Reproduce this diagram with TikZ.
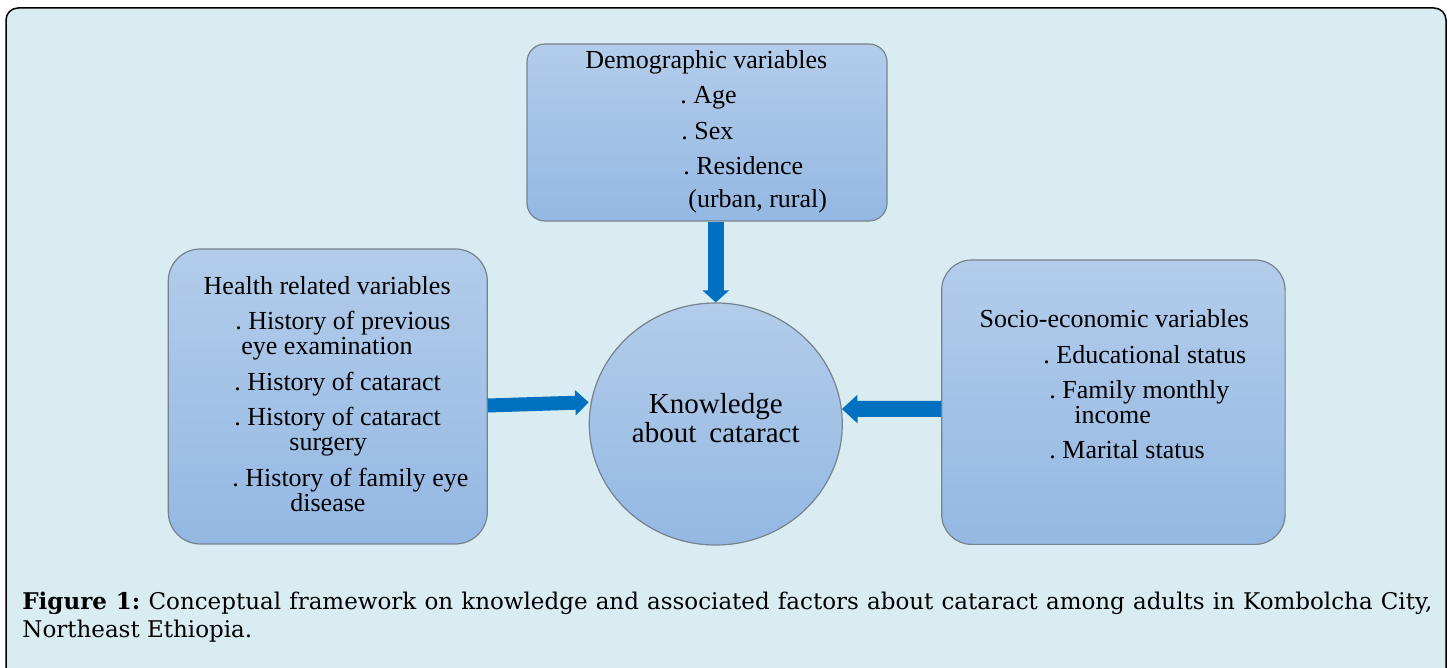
\documentclass[tikz,border=0pt]{standalone}
\usepackage{fontspec}
\setmainfont{Liberation Serif}
\newfontfamily\capfont{DejaVu Serif}
\usetikzlibrary{arrows.meta,shapes.geometric}
\frenchspacing

\definecolor{panelbg}{HTML}{D8ECF1}
\definecolor{boxtop}{HTML}{B3CCEA}
\definecolor{boxbot}{HTML}{94B8E3}
\definecolor{boxedge}{HTML}{76838F}
\definecolor{arrowblue}{HTML}{0070C0}

\tikzset{
  varbox/.style={draw=boxedge, line width=0.6pt, top color=boxtop, bottom color=boxbot,
                 shading angle=0, inner sep=0pt},
  itemline/.style={anchor=base west, inner sep=0pt, font=\fontsize{13}{15}\selectfont},
  bigarrow/.style={draw=arrowblue, line width=#1},
}

\begin{document}
\begin{tikzpicture}[x=0.5pt, y=-0.5pt]
  % page and outer panel
  \useasboundingbox (0,0) rectangle (1448,668);
  \fill[white] (0,0) rectangle (1448,668);
  \draw[fill=panelbg, draw=black, line width=0.75pt, rounded corners=6pt]
       (6,8) rectangle (1446,700);

  % variable boxes
  \node[varbox, rounded corners=9pt, minimum width=180pt, minimum height=88.5pt]
       (demo) at (707,132.5) {};
  \node[varbox, rounded corners=16pt, minimum width=159.5pt, minimum height=147.5pt]
       (health) at (327.8,396.5) {};
  \node[varbox, rounded corners=15pt, minimum width=171.7pt, minimum height=142.2pt]
       (socio) at (1113.4,402.2) {};

  % central outcome
  \node[ellipse, varbox, minimum width=126.5pt, minimum height=121pt]
       (circ) at (715.8,424) {};
  \node[inner sep=0pt, align=center, font=\fontsize{14.5}{14.5}\selectfont]
       (ktext) at (715.8,418.5) {Knowledge\\about\hspace{0.45em}cataract};

  % demographic variables
  \node[itemline] (d1) at (585,68.5)  {Demographic variables};
  \node[itemline] (d2) at (680,104)   {. Age};
  \node[itemline] (d3) at (681,139.5) {. Sex};
  \node[itemline] (d4) at (683,175)   {. Residence};
  \node[itemline] (d5) at (688,208)   {(urban, rural)};

  % health related variables
  \node[itemline] (h1) at (203.3,294.3) {Health related variables};
  \node[itemline] (h2) at (235,330)     {. History of previous};
  \node[itemline] (h3) at (241,355)     {eye examination};
  \node[itemline] (h4) at (234,390.7)   {. History of cataract};
  \node[itemline] (h5) at (234,425.7)   {. History of cataract};
  \node[itemline] (h6) at (289,451)     {surgery};
  \node[itemline] (h7) at (232,486.7)   {. History of family eye};
  \node[itemline] (h8) at (290,511.7)   {disease};

  % socio-economic variables
  \node[itemline] (s1) at (979.3,327.7) {Socio-economic variables};
  \node[itemline] (s2) at (1043,363.3)  {. Educational status};
  \node[itemline] (s3) at (1049,399)    {. Family monthly};
  \node[itemline] (s4) at (1074,423.3)  {income};
  \node[itemline] (s5) at (1049,458.3)  {. Marital status};

  % block arrows into the outcome
  \draw[bigarrow=8pt, -{Triangle[length=6pt,width=13pt]}]
       (demo.south -| circ.north) -- (circ.north);
  \draw[bigarrow=7pt, -{Triangle[length=6.7pt,width=12.3pt]}]
       ([yshift=-4.5pt]health.east) -- ([yshift=10.85pt]circ.west);
  \draw[bigarrow=8pt, -{Triangle[length=7.8pt,width=13.8pt]}]
       ([yshift=-3.35pt]socio.west) -- ([yshift=7.5pt, xshift=-0.5pt]circ.east);

  % caption
  \node[anchor=north west, inner sep=0pt, text width=705pt, align=justify,
        font=\capfont\fontsize{11.5}{14}\selectfont]
       (caption) at (22,592)
       {\textbf{Figure 1:} Conceptual framework on knowledge and associated factors about cataract among adults in Kombolcha City,\linebreak Northeast Ethiopia.};
\end{tikzpicture}
\end{document}
